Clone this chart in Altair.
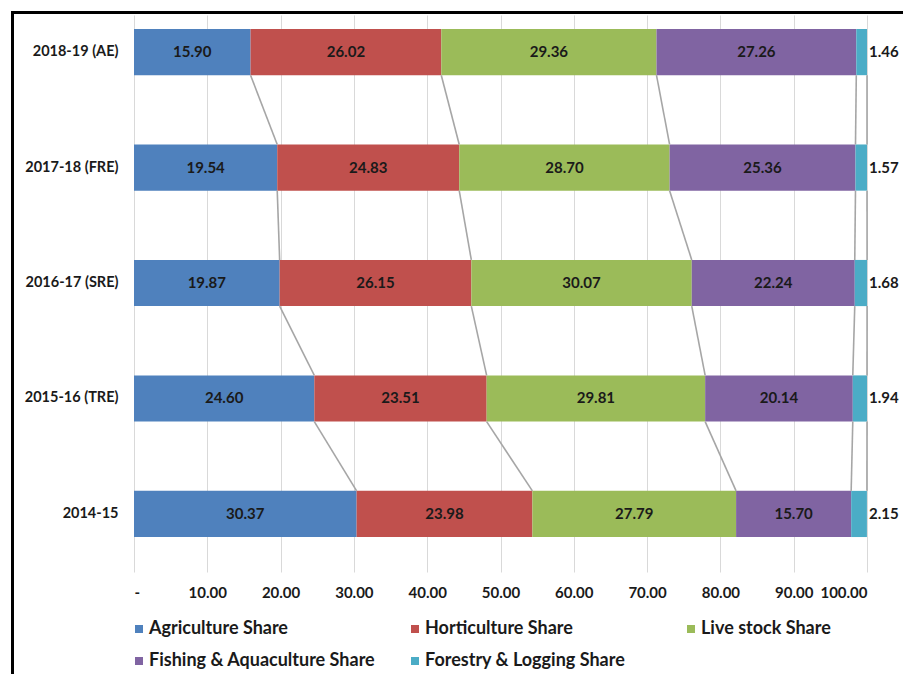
import altair as alt
import pandas as pd

# Sector shares of agricultural GVA (%), by year
years = ["2018-19 (AE)", "2017-18 (FRE)", "2016-17 (SRE)", "2015-16 (TRE)", "2014-15"]
sectors = [
    "Agriculture Share",
    "Horticulture Share",
    "Live stock Share",
    "Fishing & Aquaculture Share",
    "Forestry & Logging Share",
]
agriculture = [15.90, 19.54, 19.87, 24.60, 30.37]
horticulture = [26.02, 24.83, 26.15, 23.51, 23.98]
livestock = [29.36, 28.70, 30.07, 29.81, 27.79]
fishing = [27.26, 25.36, 22.24, 20.14, 15.70]
forestry = [1.46, 1.57, 1.68, 1.94, 2.15]
colors = ["#4F81BD", "#C0504D", "#9BBB59", "#8064A2", "#4BACC6"]
x_ticks = [0, 10, 20, 30, 40, 50, 60, 70, 80, 90, 100]

series = [agriculture, horticulture, livestock, fishing, forestry]

# Long table with cumulative segment bounds
rows = []
for yi, year in enumerate(years):
    start = 0.0
    for si, sector in enumerate(sectors):
        v = series[si][yi]
        rows.append(
            dict(year=year, sector=sector, order=si, value=v,
                 start=start, end=start + v, mid=start + v / 2,
                 label=f"{v:.2f}", outside=(si == len(sectors) - 1))
        )
        start += v
df = pd.DataFrame(rows)

# Series lines joining each segment's end between neighbouring bars
links = []
for yi in range(len(years) - 1):
    upper = df[df.year == years[yi]]
    lower = df[df.year == years[yi + 1]]
    for si in range(len(sectors)):
        links.append(dict(y_from=years[yi], y_to=years[yi + 1],
                          x_from=float(upper.iloc[si].end),
                          x_to=float(lower.iloc[si].end)))
links_df = pd.DataFrame(links)

FONT = "Lato"
INK = "#1A1A1A"

y_scale = alt.Scale(domain=years, paddingInner=0.6, paddingOuter=0.212, align=0.286)
x_scale = alt.Scale(domain=[0, 100], nice=False)

bars = alt.Chart(df).mark_bar(stroke=None).encode(
    x=alt.X("start:Q", scale=x_scale,
            axis=alt.Axis(values=x_ticks, title=None, ticks=False, domain=False,
                          grid=True, gridColor="#D9D9D9", gridWidth=1,
                          labelExpr="datum.value == 0 ? '-' : format(datum.value, '.2f')",
                          labelFont=FONT, labelFontSize=15, labelFontWeight="bold",
                          labelColor=INK, labelPadding=13)),
    x2="end:Q",
    y=alt.Y("year:N", scale=y_scale, sort=years,
            axis=alt.Axis(title=None, ticks=False, domain=False, grid=False,
                          labelFont=FONT, labelFontSize=14.5, labelFontWeight="bold",
                          labelColor=INK, labelPadding=16)),
    color=alt.Color("sector:N", scale=alt.Scale(domain=sectors, range=colors),
                    legend=alt.Legend(title=None, orient="none", legendX=-4, legendY=605,
                                      direction="horizontal", columns=3, gridAlign="all",
                                      columnPadding=30, rowPadding=14,
                                      symbolType="square", symbolSize=64,
                                      symbolStrokeWidth=0,
                                      labelFont=FONT, labelFontSize=18,
                                      labelFontWeight="bold", labelColor=INK,
                                      labelLimit=400, labelOffset=1)),
    order=alt.Order("order:Q"),
)

connectors = alt.Chart(links_df).mark_rule(color="#A6A6A6", strokeWidth=1.6).encode(
    x=alt.X("x_from:Q", scale=x_scale),
    x2="x_to:Q",
    y=alt.Y("y_from:N", scale=y_scale, sort=years, bandPosition=1),
    y2=alt.Y2("y_to:N", bandPosition=0),
)

inside = alt.Chart(df[~df.outside]).mark_text(
    font=FONT, fontSize=15, fontWeight="bold", color=INK
).encode(
    x=alt.X("mid:Q", scale=x_scale),
    y=alt.Y("year:N", scale=y_scale, sort=years),
    text="label:N",
)

outside = alt.Chart(df[df.outside]).mark_text(
    font=FONT, fontSize=15, fontWeight="bold", color=INK, align="left", dx=2
).encode(
    x=alt.X("end:Q", scale=x_scale),
    y=alt.Y("year:N", scale=y_scale, sort=years),
    text="label:N",
)

# Heavy outer frame (top and left edges)
frame_top = alt.Chart(df.head(1)).mark_rule(color="#000000", strokeWidth=3).encode(
    x=alt.value(-122), x2=alt.value(800), y=alt.value(-2.5)
)
frame_left = alt.Chart(df.head(1)).mark_rule(color="#000000", strokeWidth=3).encode(
    x=alt.value(-121.5), y=alt.value(-4), y2=alt.value(700)
)

chart = (
    alt.layer(bars, connectors, inside, outside, frame_top, frame_left)
    .properties(width=733, height=557, background="white",
                padding={"left": 134, "top": 15, "right": 36, "bottom": 102},
                autosize=alt.AutoSizeParams(type="none"))
    .configure_view(stroke=None)
)

chart.save("out.html", embed_options={"renderer": "svg", "actions": False})
